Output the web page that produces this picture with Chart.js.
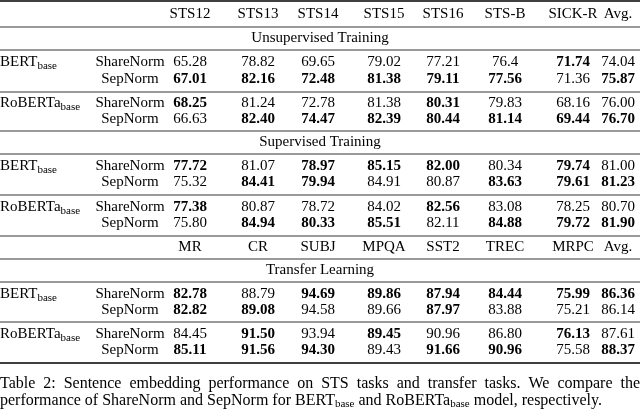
<!DOCTYPE html>
<html>
<head>
<meta charset="utf-8">
<script src="https://cdn.jsdelivr.net/npm/chart.js@4.4.0/dist/chart.umd.min.js"></script>
<style>
  body { margin: 0; background: #fff; }
  #wrap { width: 640px; height: 410px; }
</style>
</head>
<body>
<div id="wrap"><canvas id="myChart"></canvas></div>
<script>
const stsCols = ['STS12', 'STS13', 'STS14', 'STS15', 'STS16', 'STS-B', 'SICK-R', 'Avg.'];
const transferCols = ['MR', 'CR', 'SUBJ', 'MPQA', 'SST2', 'TREC', 'MRPC', 'Avg.'];
const sections = ['Unsupervised Training', 'Supervised Training', 'Transfer Learning'];
const models = ['BERT', 'RoBERTa'];
const norms = ['ShareNorm', 'SepNorm'];

// rows: [section][model][norm], '*' = bold
const unsupervised = [
    [['65.28', '78.82', '69.65', '79.02', '77.21', '76.4', '*71.74', '74.04'],
     ['*67.01', '*82.16', '*72.48', '*81.38', '*79.11', '*77.56', '71.36', '*75.87']],
    [['*68.25', '81.24', '72.78', '81.38', '*80.31', '79.83', '68.16', '76.00'],
     ['66.63', '*82.40', '*74.47', '*82.39', '*80.44', '*81.14', '*69.44', '*76.70']]
];
const supervised = [
    [['*77.72', '81.07', '*78.97', '*85.15', '*82.00', '80.34', '*79.74', '81.00'],
     ['75.32', '*84.41', '*79.94', '84.91', '80.87', '*83.63', '*79.61', '*81.23']],
    [['*77.38', '80.87', '78.72', '84.02', '*82.56', '83.08', '78.25', '80.70'],
     ['75.80', '*84.94', '*80.33', '*85.51', '82.11', '*84.88', '*79.72', '*81.90']]
];
const transfer = [
    [['*82.78', '88.79', '*94.69', '*89.86', '*87.94', '*84.44', '*75.99', '*86.36'],
     ['*82.82', '*89.08', '94.58', '89.66', '*87.97', '83.88', '75.21', '86.14']],
    [['84.45', '*91.50', '93.94', '*89.45', '90.96', '86.80', '*76.13', '87.61'],
     ['*85.11', '*91.56', '*94.30', '89.43', '*91.66', '*90.96', '75.58', '*88.37']]
];
const captionWords1 = 'Table 2:  Sentence embedding performance on STS tasks and transfer tasks.  We compare the';

// layout (pixels on the linear scales)
const colX = [190, 258, 318, 384, 443, 505, 573, 618];
const normX = 130;
const headY = [14, 247];
const sectionY = [38, 142, 270];
const blockY = [[62, 79, 103, 119], [166, 182, 207, 223], [294, 310, 334, 350]];
const thinRules = [27, 50, 92, 131, 154, 195, 236, 259, 282, 322];

const tablePlugin = {
    id: 'table',
    afterDraw(chart) {
        const c = chart.ctx, X = chart.scales.x, Y = chart.scales.y;
        const px = v => X.getPixelForValue(v), py = v => Y.getPixelForValue(v);
        const serif = '"Liberation Serif", "DejaVu Serif", serif';
        c.save();
        c.fillStyle = '#000';
        c.strokeStyle = '#000';
        c.textBaseline = 'middle';
        function rule(y, w) {
            c.lineWidth = w;
            c.beginPath(); c.moveTo(px(0), py(y)); c.lineTo(px(640), py(y)); c.stroke();
        }
        rule(1, 1.6);
        thinRules.forEach(y => rule(y, 0.8));
        rule(363, 1.6);
        function txt(s, x, y, align) {
            let bold = s[0] === '*';
            if (bold) s = s.slice(1);
            c.font = (bold ? 'bold ' : '') + '15px ' + serif;
            c.textAlign = align || 'center';
            c.fillText(s, px(x), py(y));
        }
        [stsCols, transferCols].forEach((cols, i) => cols.forEach((h, j) => txt(h, colX[j], headY[i])));
        sections.forEach((s, i) => txt(s, 320, sectionY[i]));
        [unsupervised, supervised, transfer].forEach((sec, si) => {
            sec.forEach((m, mi) => {
                m.forEach((row, ni) => {
                    const y = blockY[si][mi * 2 + ni];
                    txt(norms[ni], normX, y);
                    row.forEach((v, j) => txt(v, colX[j], y));
                });
                // model label with subscript
                const y = (blockY[si][mi * 2] + blockY[si][mi * 2 + 1]) / 2 - 8;
                c.font = '15px ' + serif; c.textAlign = 'left';
                c.fillText(models[mi], px(0), py(y));
                const w = c.measureText(models[mi]).width;
                c.font = '11px ' + serif;
                c.fillText('base', px(0) + w, py(y + 4));
            });
        });
        // caption
        c.font = '16px ' + serif; c.textAlign = 'left';
        const words = captionWords1.split(' ').filter(w => w);
        const total = words.reduce((a, w) => a + c.measureText(w).width, 0);
        const gap = (px(640) - px(0) - total) / (words.length - 1);
        let x = px(0);
        words.forEach(w => { c.fillText(w, x, py(384)); x += c.measureText(w).width + gap; });
        const parts = [['performance of ShareNorm and SepNorm for BERT', 0], ['base', 1], [' and RoBERTa', 0], ['base', 1], [' model, respectively.', 0]];
        x = px(0);
        parts.forEach(([s, sub]) => {
            c.font = (sub ? '11px ' : '16px ') + serif;
            c.fillText(s, x, py(sub ? 404 : 401));
            x += c.measureText(s).width;
        });
        c.restore();
    }
};

const ctx = document.getElementById('myChart').getContext('2d');
new Chart(ctx, {
    type: 'scatter',
    data: { datasets: [{ data: [], pointRadius: 0 }] },
    options: {
        responsive: true,
        maintainAspectRatio: false,
        animation: false,
        layout: { padding: 0 },
        plugins: { legend: { display: false }, tooltip: { enabled: false } },
        scales: {
            x: { type: 'linear', min: 0, max: 640, display: false },
            y: { type: 'linear', min: 0, max: 410, reverse: true, display: false }
        }
    },
    plugins: [tablePlugin]
});
</script>
</body>
</html>
